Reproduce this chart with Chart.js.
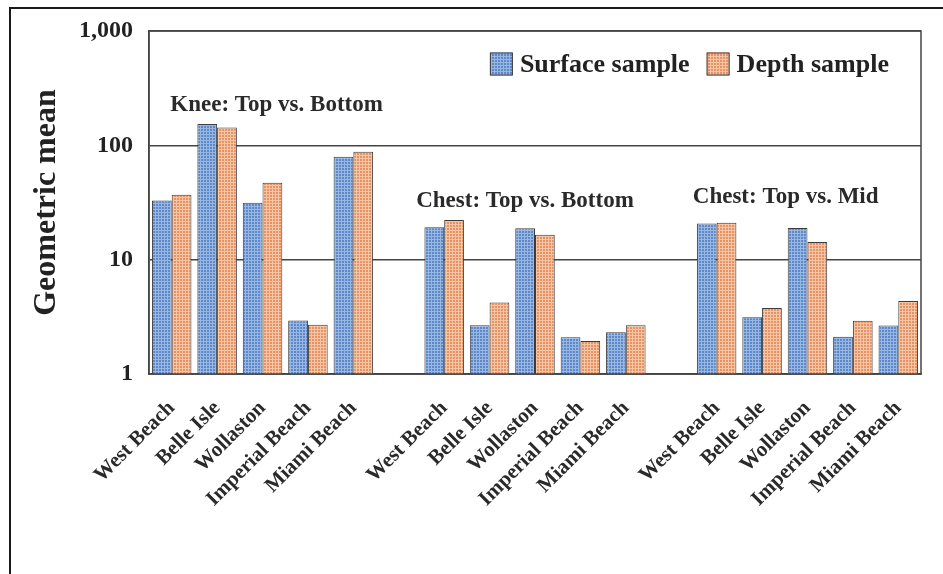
<!DOCTYPE html>
<html>
<head>
<meta charset="utf-8">
<script src="https://cdn.jsdelivr.net/npm/chart.js@4.4.1/dist/chart.umd.min.js"></script>
<style>
  body { margin: 0; background: #fff; }
  #wrap { position: relative; width: 943px; height: 574px; overflow: hidden; }
  #frame {
    position: absolute; left: 9px; top: 7px; width: 960px; height: 600px;
    border-left: 2px solid #1a1a1a; border-top: 2px solid #1a1a1a;
    pointer-events: none;
  }
</style>
</head>
<body>
<div id="wrap">
  <canvas id="chart-beach" width="943" height="574"></canvas>
  <div id="frame"></div>
</div>
<script>
// beaches per group, empty slot between groups
const beaches = ["West Beach", "Belle Isle", "Wollaston", "Imperial Beach", "Miami Beach"];
const categories = [...beaches, "", ...beaches, "", ...beaches];

const surfaceSample = [33, 154, 31.5, 2.94, 79.5, null, 19.2, 2.67, 18.8, 2.1, 2.32, null, 20.7, 3.14, 18.9, 2.12, 2.66];
const depthSample = [37, 143, 47, 2.69, 88, null, 22.2, 4.22, 16.5, 1.94, 2.67, null, 21.0, 3.77, 14.3, 2.92, 4.34];

const yTicks = [1, 10, 100, 1000];

// group captions: text, category position, value height
const groupNames = ["Knee: Top vs. Bottom", "Chest: Top vs. Bottom", "Chest: Top vs. Mid"];
const groupAt = [2.31, 7.78, 13.52];
const groupLevel = [223, 32.3, 35];

const serif = "'Liberation Serif', 'Times New Roman', serif";

// dotted fill like the printed bars
const makePattern = (light, dark) => {
  const tile = document.createElement("canvas");
  tile.width = 3;
  tile.height = 3;
  const t = tile.getContext("2d");
  t.fillStyle = light;
  t.fillRect(0, 0, 3, 3);
  t.fillStyle = dark;
  t.fillRect(0, 0, 2, 2);
  return t.createPattern(tile, "repeat");
};

const blueFill = makePattern("rgb(152,184,228)", "rgb(96,136,200)");
const orangeFill = makePattern("rgb(246,198,164)", "rgb(228,146,102)");

const plotBox = {
  id: "plotBox",
  afterDraw(chart) {
    const { ctx, chartArea: a } = chart;
    ctx.save();
    ctx.strokeStyle = "#444";
    ctx.lineWidth = 1.5;
    ctx.strokeRect(a.left, a.top, a.right - a.left, a.bottom - a.top);
    ctx.restore();
  },
};

const groupCaptions = {
  id: "groupCaptions",
  afterDatasetsDraw(chart) {
    const { ctx, scales } = chart;
    ctx.save();
    ctx.font = "bold 23px " + serif;
    ctx.fillStyle = "#2a2a2a";
    ctx.textAlign = "center";
    ctx.textBaseline = "middle";
    for (let i = 0; i < groupNames.length; i++) {
      const x = scales.x.getPixelForValue(groupAt[i]);
      const y = scales.y.getPixelForValue(groupLevel[i]);
      ctx.fillText(groupNames[i], x, y);
    }
    ctx.restore();
  },
};

// legend sits inside the plot, top right
const insideLegend = {
  id: "insideLegend",
  afterDraw(chart) {
    const { ctx, chartArea: a } = chart;
    const box = 23, gap = 7, spacing = 17;
    ctx.save();
    ctx.font = "bold 26px " + serif;
    const sets = chart.data.datasets;
    let total = 0;
    sets.forEach((ds, i) => {
      total += box + gap + ctx.measureText(ds.label).width;
      if (i < sets.length - 1) total += spacing;
    });
    let x = a.right - 32 - total;
    const yMid = a.top + 33;
    ctx.textBaseline = "middle";
    ctx.textAlign = "left";
    sets.forEach((ds) => {
      ctx.fillStyle = ds.backgroundColor;
      ctx.fillRect(x, yMid - box / 2, box, box);
      ctx.strokeStyle = ds.borderColor;
      ctx.lineWidth = 1;
      ctx.strokeRect(x + 0.5, yMid - box / 2 + 0.5, box - 1, box - 1);
      x += box + gap;
      ctx.fillStyle = "#222";
      ctx.fillText(ds.label, x, yMid + 1);
      x += ctx.measureText(ds.label).width + spacing;
    });
    ctx.restore();
  },
};

const ctx = document.getElementById("chart-beach").getContext("2d");
const beachChart = new Chart(ctx, {
  type: "bar",
  data: {
    labels: categories,
    datasets: [
      {
        label: "Surface sample",
        data: surfaceSample,
        backgroundColor: blueFill,
        borderColor: "#3c3c3c",
        borderWidth: 1,
      },
      {
        label: "Depth sample",
        data: depthSample,
        backgroundColor: orangeFill,
        borderColor: "#3c3c3c",
        borderWidth: 1,
      },
    ],
  },
  options: {
    responsive: false,
    animation: false,
    layout: { padding: { top: 31, right: 22, left: 0, bottom: 0 } },
    datasets: { bar: { categoryPercentage: 0.87, barPercentage: 1.0 } },
    plugins: {
      tooltip: { enabled: false },
      legend: { display: false },
    },
    scales: {
      x: {
        grid: { display: false, drawTicks: false },
        border: { display: true, color: "#444", width: 1.5 },
        ticks: {
          minRotation: 45,
          maxRotation: 45,
          autoSkip: false,
          padding: 22,
          color: "#2a2a2a",
          font: { family: serif, size: 21, weight: "bold" },
        },
        afterFit: (s) => { s.height = 200; },
      },
      y: {
        type: "logarithmic",
        min: 1,
        max: 1000,
        afterBuildTicks: (s) => { s.ticks = yTicks.map((v) => ({ value: v })); },
        grid: { color: "#444", lineWidth: 1.5, drawTicks: false },
        border: { display: true, color: "#444", width: 1.5 },
        ticks: {
          padding: 16,
          color: "#222",
          font: { family: serif, size: 24, weight: "bold" },
          callback: (v) => v.toLocaleString("en-US"),
        },
        title: {
          display: true,
          text: "Geometric mean",
          color: "#222",
          padding: { top: 28, bottom: 0 },
          font: { family: serif, size: 32, weight: "bold" },
        },
        afterFit: (s) => { s.width = 149; },
      },
    },
  },
  plugins: [plotBox, groupCaptions, insideLegend],
});
</script>
</body>
</html>
